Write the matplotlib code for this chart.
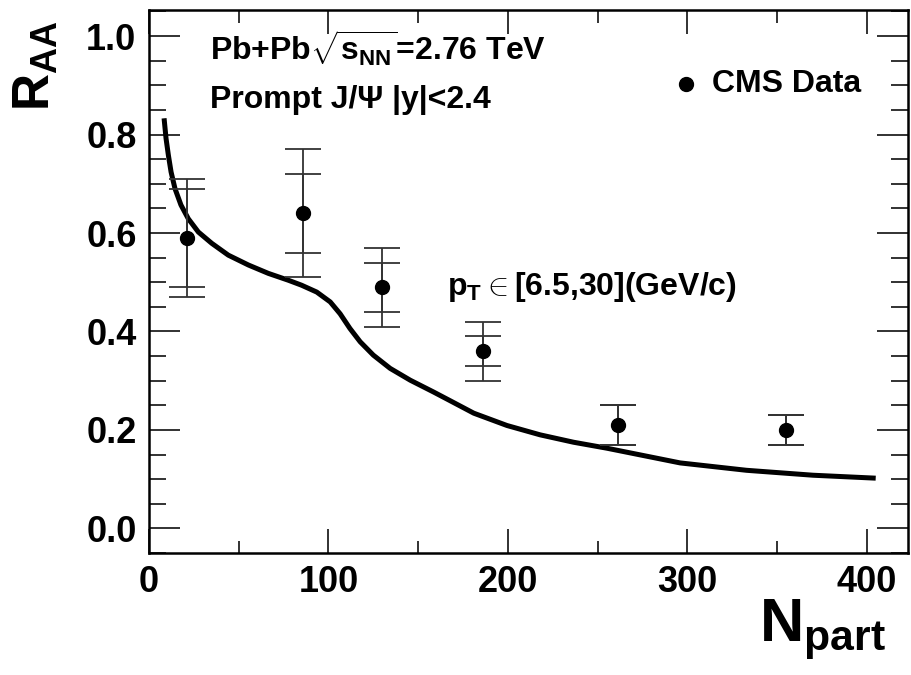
import matplotlib
matplotlib.use("Agg")
import matplotlib.pyplot as plt
from matplotlib.ticker import MultipleLocator
import numpy as np

plt.rcParams['font.family'] = ['Liberation Sans', 'DejaVu Sans']
plt.rcParams['font.weight'] = 'bold'
plt.rcParams['mathtext.fontset'] = 'custom'
plt.rcParams['mathtext.rm'] = 'Liberation Sans:bold'
plt.rcParams['mathtext.it'] = 'Liberation Sans:bold'
plt.rcParams['mathtext.bf'] = 'Liberation Sans:bold'
plt.rcParams['mathtext.sf'] = 'Liberation Sans:bold'

# CMS data
npart = [21, 86, 130, 186, 261.5, 355]
raa = [0.59, 0.64, 0.49, 0.36, 0.21, 0.20]
outer_lo = [0.47, 0.51, 0.41, 0.30, 0.17, 0.17]
outer_hi = [0.71, 0.77, 0.57, 0.42, 0.25, 0.23]
inner_lo = [0.49, 0.56, 0.44, 0.33, 0.17, 0.17]
inner_hi = [0.69, 0.72, 0.54, 0.39, 0.25, 0.23]

# model curve
curve_x = [8.4, 9.5, 10.8, 12.3, 14.5, 17.8, 21.9, 27.5, 35, 44.2, 55.4, 66.5,
           77.7, 85, 93.5, 101, 106.5, 112, 117.7, 125, 134.4, 145.6, 158.6,
           168, 181, 199.5, 218, 236.6, 255, 296, 333, 370, 405]
curve_y = [0.833, 0.792, 0.758, 0.724, 0.690, 0.657, 0.629, 0.602, 0.579, 0.555,
           0.535, 0.518, 0.504, 0.494, 0.480, 0.460, 0.436, 0.406, 0.379, 0.352,
           0.325, 0.301, 0.277, 0.259, 0.234, 0.209, 0.190, 0.175, 0.163, 0.133,
           0.118, 0.108, 0.102]

W, H = 912, 675
fig = plt.figure(figsize=(W / 100, H / 100), dpi=100)
ax = fig.add_axes([149 / W, 1 - 553 / H, (908 - 149) / W, (553 - 10) / H])

ax.plot(curve_x, curve_y, color='black', lw=3.6, solid_capstyle='butt',
        solid_joinstyle='round')

raa_a = np.array(raa)
for lo, hi in ((outer_lo, outer_hi), (inner_lo, inner_hi)):
    yerr = [raa_a - np.array(lo), np.array(hi) - raa_a]
    ax.errorbar(npart, raa, yerr=yerr, fmt='none', ecolor='#333333',
                elinewidth=1.3, capsize=13, capthick=1.3)
ax.plot(npart, raa, 'o', color='black', ms=10, zorder=5)

ax.set_xlim(0, 423)
ax.set_ylim(-0.05, 1.053)

ax.xaxis.set_major_locator(MultipleLocator(100))
ax.xaxis.set_minor_locator(MultipleLocator(50))
ax.yaxis.set_minor_locator(MultipleLocator(0.05))
ax.set_yticks([0.0, 0.2, 0.4, 0.6, 0.8, 1.0])
ax.set_yticklabels(['0.0', '0.2', '0.4', '0.6', '0.8', '1.0'])

ax.tick_params(axis='both', which='both', direction='in', top=True, right=True,
               width=1.3, color='#222222')
ax.tick_params(axis='x', which='major', length=17, labelsize=26, pad=9)
ax.tick_params(axis='x', which='minor', length=9)
ax.tick_params(axis='y', which='major', length=22, labelsize=26, pad=9)
ax.tick_params(axis='y', which='minor', length=12)
for lab in ax.get_xticklabels() + ax.get_yticklabels():
    lab.set_fontweight('bold')
for sp in ax.spines.values():
    sp.set_linewidth(1.8)

def fx(px):
    return px / W

def fy(py):
    return 1 - py / H

fig.text(fx(210), fy(48), r'Pb+Pb$\sqrt{s_{NN}}$=2.76 TeV', fontsize=23,
         fontweight='bold', ha='left', va='center')
fig.text(fx(210), fy(100), 'Prompt J/Ψ |y|<2.4', fontsize=23,
         fontweight='bold', ha='left', va='center')
fig.text(fx(447), fy(287), r'p$_{\mathrm{T}}$$\in$[6.5,30](GeV/c)', fontsize=23,
         fontweight='bold', ha='left', va='center')

# legend
fig.lines.append(plt.Line2D([fx(686)], [fy(84)], marker='o', color='black',
                            ms=10, transform=fig.transFigure, ls='none'))
fig.text(fx(712), fy(84), 'CMS Data', fontsize=23, fontweight='bold',
         ha='left', va='center')

# axis labels
fig.text(fx(36), fy(66), r'R$_{\mathrm{AA}}$', fontsize=37, fontweight='bold',
         rotation=90, ha='center', va='center')
fig.text(fx(886), fy(630), r'N$_{\mathrm{part}}$', fontsize=44, fontweight='bold',
         ha='right', va='center')

fig.savefig('out.png', dpi=100)
